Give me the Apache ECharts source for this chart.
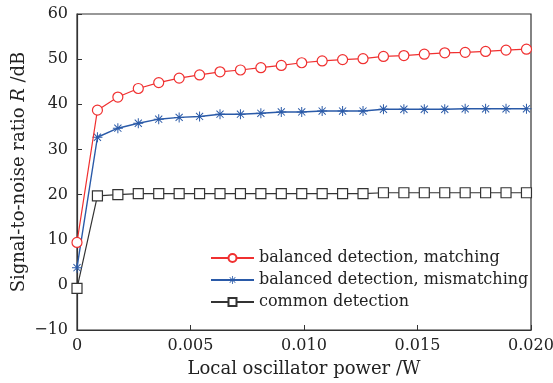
<!DOCTYPE html>
<html>
<head>
<meta charset="utf-8">
<script src="https://cdn.jsdelivr.net/npm/echarts@6/dist/echarts.min.js"></script>
<style>
html,body{margin:0;padding:0;background:#fff;}
#c{width:553px;height:383px;}
</style>
</head>
<body>
<div id="c"></div>
<script>
// Data
var xValues = [0, 0.0009, 0.0018, 0.0027, 0.0036, 0.0045, 0.0054, 0.0063, 0.0072, 0.0081, 0.0090, 0.0099,
  0.0108, 0.0117, 0.0126, 0.0135, 0.0144, 0.0153, 0.0162, 0.0171, 0.0180, 0.0189, 0.0198];
var matching = [9.4, 38.7, 41.6, 43.5, 44.8, 45.8, 46.5, 47.2, 47.6, 48.1, 48.6, 49.2,
  49.6, 49.9, 50.1, 50.6, 50.8, 51.1, 51.4, 51.5, 51.7, 52.0, 52.2];
var mismatching = [3.8, 32.7, 34.7, 35.8, 36.7, 37.1, 37.3, 37.8, 37.8, 38.0, 38.3, 38.3,
  38.5, 38.5, 38.5, 38.9, 38.9, 38.9, 38.9, 39.0, 39.0, 39.0, 39.0];
var common = [-0.8, 19.7, 20.0, 20.2, 20.2, 20.2, 20.2, 20.2, 20.2, 20.2, 20.2, 20.2,
  20.2, 20.2, 20.2, 20.4, 20.4, 20.4, 20.4, 20.4, 20.4, 20.4, 20.4];
var seriesNames = ['balanced detection, matching', 'balanced detection, mismatching', 'common detection'];
var xTicks = [0, 0.005, 0.010, 0.015, 0.020];
var yTicks = [-10, 0, 10, 20, 30, 40, 50, 60];

function pairs(ys) { return ys.map(function (y, i) { return [xValues[i], y]; }); }

var FONT = 'DejaVu Serif';
var star = 'path://M9 0 L11 0 L11 20 L9 20 Z M0 9 L20 9 L20 11 L0 11 Z M3.6 2.2 L17.8 16.4 L16.4 17.8 L2.2 3.6 Z M16.4 2.2 L17.8 3.6 L3.6 17.8 L2.2 16.4 Z';

var chart = echarts.init(document.getElementById('c'), null, {renderer: 'canvas'});
chart.setOption({
  animation: false,
  backgroundColor: '#fff',
  grid: {left: 77, right: 22, top: 14, bottom: 53, show: true, borderColor: '#333', borderWidth: 1.2,
    backgroundColor: 'transparent', containLabel: false, outerBoundsMode: 'none'},
  legend: {
    orient: 'vertical', left: 205, top: 245, itemWidth: 43, itemHeight: 10, itemGap: 6,
    textStyle: {fontFamily: FONT, fontSize: 16, color: '#222'},
    data: seriesNames
  },
  xAxis: {
    type: 'value', min: xTicks[0], max: xTicks[xTicks.length - 1], interval: 0.005,
    name: 'Local oscillator power /W', nameLocation: 'middle', nameGap: 30, nameMoveOverlap: false,
    nameTextStyle: {fontFamily: FONT, fontSize: 18, color: '#222'},
    axisLine: {onZero: false, lineStyle: {color: '#333', width: 1.2}},
    axisTick: {inside: true, length: 5, lineStyle: {color: '#333'}},
    axisLabel: {fontFamily: FONT, fontSize: 16, color: '#222', margin: 8,
      formatter: function (v) { return v === 0 ? '0' : v.toFixed(3); }},
    splitLine: {show: false}
  },
  yAxis: {
    type: 'value', min: yTicks[0], max: yTicks[yTicks.length - 1], interval: 10,
    name: 'Signal-to-noise ratio {i|R} /dB', nameLocation: 'middle', nameGap: 49, nameRotate: 90,
    nameMoveOverlap: false,
    nameTextStyle: {fontFamily: FONT, fontSize: 18, color: '#222',
      rich: {i: {fontFamily: FONT, fontSize: 18, fontStyle: 'italic', color: '#222'}}},
    axisLine: {show: true, onZero: false, lineStyle: {color: '#333', width: 1.2}},
    axisTick: {show: true, inside: true, length: 5, lineStyle: {color: '#333'}},
    axisLabel: {fontFamily: FONT, fontSize: 16, color: '#222', margin: 9,
      formatter: function (v) { return String(v).replace('-', '\u2212'); }},
    splitLine: {show: false}
  },
  series: [
    {name: seriesNames[0], type: 'line', data: pairs(matching), symbol: 'circle', symbolSize: 10,
      itemStyle: {color: '#fff', borderColor: '#f03030', borderWidth: 1.2},
      lineStyle: {color: '#f03030', width: 1.2}, color: '#f03030', z: 3},
    {name: seriesNames[1], type: 'line', data: pairs(mismatching), symbol: star, symbolSize: 10,
      itemStyle: {color: '#2a5aa8', borderWidth: 0},
      lineStyle: {color: '#2a5aa8', width: 1.4}, color: '#2a5aa8', z: 2},
    {name: seriesNames[2], type: 'line', data: pairs(common), symbol: 'rect', symbolSize: 10,
      itemStyle: {color: '#fff', borderColor: '#333', borderWidth: 1.2},
      lineStyle: {color: '#333', width: 1.2}, color: '#333', z: 1}
  ]
});
</script>
</body>
</html>
